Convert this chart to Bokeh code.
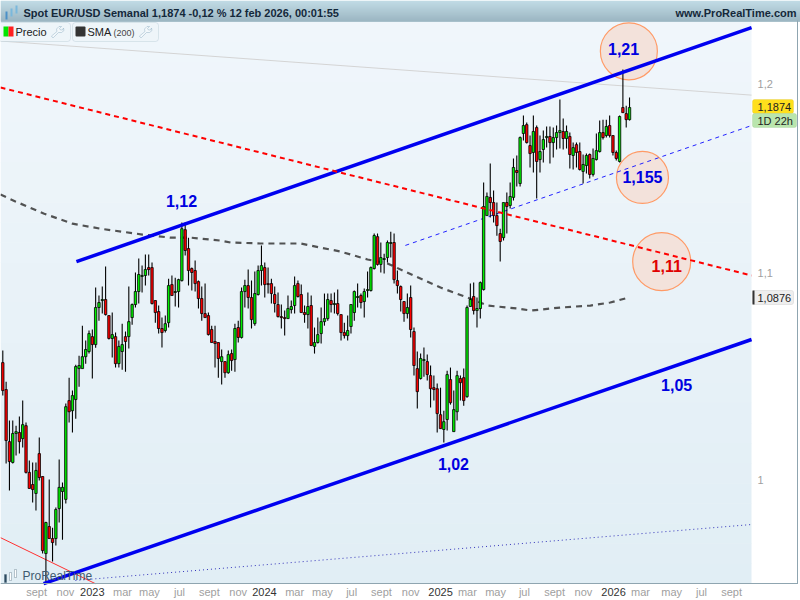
from bokeh.plotting import figure
from bokeh.models import (BoxAnnotation, Label, PolyAnnotation, FixedTicker, Range1d)
from bokeh.core.properties import value
from bokeh.embed import file_html
from bokeh.resources import INLINE

direction = ("RRRGGRGRRR" "GRRGRRGGGG" "RGGGGGGRGG" "GRRGRGGRGG" "GGGGRRRRRG"
             "GRGGGRRRRR" "RRRRRRGRGR" "GRGGRRGGGR" "RRRRRRGGGR" "RRGRGGGGGR"
             "GRRRGGGGRG" "GGGRGGGGRR" "RRGRRRGGRR" "RRRGGRGGRR" "GGRGGGGRRR"
             "RGRGGRGGRR" "GRGGGRGGGR" "GRGRRGGRGG" "GRGRRRGRRG")
body_top = [1.0553,1.0423,1.0176,1.0214,1.0223,1.0219,1.0256,1.0251,1.0033,.9977,
1.0042,1.0120,1.0014,.9804,.9786,.9732,.9863,.9964,.9964,1.0341,
1.0370,1.0394,1.0534,1.0539,1.0582,1.0617,1.0695,1.0680,1.0824,1.0849,
1.0864,1.0864,1.0784,1.0690,1.0680,1.0632,1.0641,1.0680,1.0754,1.0839,
1.0904,1.0990,1.0985,1.1015,1.1025,1.1025,1.0859,1.0804,1.0720,1.0744,
1.0934,1.0939,1.0904,1.0964,1.1224,1.1219,1.1122,1.1020,1.1010,1.0954,
1.0869,1.0794,1.0784,1.0715,1.0656,1.0651,1.0582,1.0558,1.0592,1.0597,
1.0720,1.0725,1.0904,1.0934,1.0934,1.0874,1.0894,1.1010,1.1035,1.1025,
1.0944,1.0944,1.0889,1.0839,1.0779,1.0774,1.0819,1.0829,1.0934,1.0944,
1.0889,1.0799,1.0829,1.0834,1.0651,1.0690,1.0754,1.0769,1.0864,1.0859,
1.0844,1.0844,1.0789,1.0700,1.0710,1.0839,1.0904,1.0879,1.0884,1.0904,
1.0914,1.1025,1.1189,1.1183,1.1076,1.1071,1.1153,1.1153,1.1153,1.0959,
1.0929,1.0854,1.0824,1.0874,1.0705,1.0524,1.0573,1.0568,1.0558,1.0490,
1.0432,1.0427,1.0303,1.0270,1.0495,1.0471,1.0327,1.0490,1.0476,1.0480,
1.0824,1.0864,1.0879,1.0819,1.0949,1.1339,1.1392,1.1387,1.1360,1.1292,
1.1199,1.1360,1.1360,1.1392,1.1545,1.1529,1.1705,1.1770,1.1775,1.1662,
1.1738,1.1759,1.1630,1.1694,1.1711,1.1711,1.1705,1.1732,1.1743,1.1738,
1.1738,1.1711,1.1651,1.1667,1.1630,1.1561,1.1609,1.1614,1.1593,1.1635,
1.1732,1.1732,1.1765,1.1770,1.1716,1.1625,1.1819,1.1868,1.1835,1.1868]
body_bottom = [1.0418,1.0181,1.0083,1.0079,1.0214,1.0176,1.0190,1.0033,.9959,.9954,
.9936,1.0009,.9678,.9665,.9732,.9714,.9732,.9867,.9945,.9909,
1.0317,1.0322,1.0375,1.0524,1.0524,1.0582,1.0607,1.0641,1.0641,1.0824,
1.0859,1.0789,1.0671,1.0671,1.0548,1.0548,1.0607,1.0656,1.0680,1.0774,
1.0839,1.0904,1.0980,1.0985,1.1015,1.0844,1.0799,1.0720,1.0700,1.0710,
1.0749,1.0884,1.0899,1.0904,1.0959,1.1112,1.1010,1.1000,1.0944,1.0869,
1.0794,1.0774,1.0690,1.0651,1.0646,1.0573,1.0558,1.0504,1.0504,1.0563,
1.0568,1.0676,1.0676,1.0904,1.0874,1.0764,1.0744,1.0889,1.1010,1.0939,
1.0939,1.0894,1.0844,1.0779,1.0774,1.0769,1.0769,1.0814,1.0834,1.0879,
1.0799,1.0789,1.0789,1.0636,1.0632,1.0651,1.0695,1.0754,1.0769,1.0839,
1.0839,1.0794,1.0700,1.0685,1.0685,1.0730,1.0799,1.0874,1.0849,1.0854,
1.0909,1.0909,1.1020,1.1041,1.1041,1.1066,1.1076,1.1148,1.0964,1.0934,
1.0864,1.0794,1.0794,1.0715,1.0539,1.0413,1.0476,1.0563,1.0495,1.0427,
1.0423,1.0308,1.0237,1.0233,1.0280,1.0360,1.0223,1.0317,1.0456,1.0370,
1.0389,1.0829,1.0809,1.0809,1.0819,1.0914,1.1292,1.1360,1.1292,1.1240,
1.1158,1.1178,1.1339,1.1345,1.1387,1.1518,1.1460,1.1727,1.1678,1.1619,
1.1625,1.1577,1.1587,1.1641,1.1705,1.1678,1.1678,1.1705,1.1732,1.1700,
1.1700,1.1614,1.1609,1.1625,1.1534,1.1524,1.1555,1.1508,1.1508,1.1587,
1.1630,1.1705,1.1716,1.1716,1.1625,1.1593,1.1577,1.1840,1.1802,1.1802]
wick_high = [1.0612,1.0461,1.0275,1.0275,1.0251,1.0294,1.0370,1.0266,1.0088,1.0079,
1.0079,1.0195,1.0014,.9808,1.0000,.9781,.9872,1.0093,.9986,1.0356,
1.0480,1.0418,1.0543,1.0587,1.0734,1.0661,1.0710,1.0715,1.0924,1.0884,
1.0929,1.1030,1.0784,1.0799,1.0700,1.0661,1.0744,1.0705,1.0929,1.0844,
1.1000,1.1071,1.1035,1.1091,1.1091,1.1051,1.0859,1.0834,1.0774,1.0784,
1.0969,1.0985,1.0974,1.0969,1.1256,1.1256,1.1178,1.1025,1.1061,1.0959,
1.0929,1.0944,1.0799,1.0734,1.0734,1.0651,1.0617,1.0558,1.0612,1.0617,
1.0744,1.0759,1.0924,1.0964,1.1015,1.0959,1.1005,1.1035,1.1137,1.1051,
1.1025,1.0969,1.0929,1.0899,1.0839,1.0809,1.0884,1.0859,1.0980,1.0959,
1.0939,1.0834,1.0899,1.0884,1.0725,1.0774,1.0824,1.0894,1.0894,1.0894,
1.0899,1.0914,1.0789,1.0749,1.0784,1.0839,1.0909,1.0944,1.0894,1.0919,
1.1005,1.1030,1.1199,1.1199,1.1153,1.1096,1.1163,1.1209,1.1199,1.1010,
1.0934,1.0854,1.0894,1.0934,1.0725,1.0607,1.0597,1.0627,1.0592,1.0539,
1.0490,1.0452,1.0432,1.0322,1.0514,1.0529,1.0418,1.0514,1.0490,1.0524,
1.0834,1.0944,1.0949,1.0874,1.0954,1.1465,1.1413,1.1566,1.1423,1.1360,
1.1224,1.1360,1.1413,1.1465,1.1593,1.1609,1.1711,1.1824,1.1786,1.1716,
1.1824,1.1770,1.1716,1.1743,1.1765,1.1765,1.1759,1.1770,1.1912,1.1808,
1.1770,1.1732,1.1678,1.1678,1.1678,1.1614,1.1619,1.1619,1.1646,1.1727,
1.1797,1.1802,1.1802,1.1824,1.1716,1.1635,1.1824,1.2078,1.1878,1.1923]
wick_low = [1.0394,1.0074,.9950,1.0074,1.0111,1.0120,1.0148,1.0028,.9959,.9895,
.9858,.9995,.9665,.9532,.9732,.9630,.9701,.9804,.9727,.9890,
1.0266,1.0219,1.0284,1.0437,1.0524,1.0548,1.0597,1.0476,1.0626,1.0759,
1.0794,1.0784,1.0666,1.0578,1.0529,1.0529,1.0519,1.0509,1.0622,1.0739,
1.0824,1.0844,1.0899,1.0934,1.0985,1.0839,1.0749,1.0695,1.0627,1.0700,
1.0725,1.0884,1.0829,1.0824,1.0954,1.1086,1.0934,1.0909,1.0904,1.0819,
1.0759,1.0774,1.0685,1.0651,1.0529,1.0480,1.0447,1.0480,1.0499,1.0514,
1.0509,1.0651,1.0671,1.0824,1.0819,1.0720,1.0734,1.0884,1.0934,1.0874,
1.0894,1.0844,1.0799,1.0774,1.0720,1.0685,1.0769,1.0794,1.0794,1.0874,
1.0799,1.0749,1.0720,1.0636,1.0597,1.0646,1.0646,1.0734,1.0759,1.0799,
1.0794,1.0784,1.0661,1.0671,1.0661,1.0695,1.0759,1.0824,1.0819,1.0774,
1.0874,1.0904,1.1015,1.1035,1.1000,1.0995,1.1051,1.1076,1.0944,1.0894,
1.0804,1.0754,1.0769,1.0676,1.0490,1.0332,1.0471,1.0485,1.0466,1.0337,
1.0370,1.0219,1.0237,1.0172,1.0228,1.0351,1.0223,1.0275,1.0370,1.0346,
1.0384,1.0829,1.0789,1.0725,1.0769,1.0909,1.1292,1.1282,1.1256,1.1188,
1.1056,1.1163,1.1199,1.1329,1.1371,1.1444,1.1444,1.1689,1.1673,1.1545,
1.1518,1.1381,1.1518,1.1571,1.1651,1.1566,1.1598,1.1641,1.1646,1.1641,
1.1646,1.1539,1.1534,1.1545,1.1529,1.1460,1.1513,1.1487,1.1497,1.1582,
1.1625,1.1694,1.1705,1.1705,1.1609,1.1582,1.1571,1.1840,1.1759,1.1797]

sma_week = [-0.69,3.8,12.3,21,29.5,42.1,50.6,56.6,65.6,68.7,77.7,89.8,95.8,101.8,110,116,123.9,132,140.1,146.2,155.2,159.2,168.2,177.2,183.2,188.7]
sma_value = [1.1402,1.1366,1.1303,1.1250,1.1224,1.1194,1.1178,1.1178,1.1163,1.1153,1.1148,1.1148,1.1127,1.1107,1.1066,1.1046,1.0985,1.0924,1.0874,1.0834,1.0819,1.0809,1.0824,1.0834,1.0849,1.0874]

month_ticks = [10.2,18.9,36.1,44.2,53.3,62.3,71,88,96.4,105.2,114.2,123,140.1,148.6,157.3,166.4,175.1,192.3,201.7,210.7,219.8]
month_labels = ["sept","nov","mar","may","jul","sept","nov","mar","may","jul","sept","nov","mar","may","jul","sept","nov","mar","may","jul","sept"]
year_ticks = [27,78.9,132,184.2]
year_labels = ["2023","2024","2025","2026"]
price_ticks = [1,1.1,1.2]
price_labels = ["1","1,1","1,2"]

weeks = list(range(len(body_top)))
WEEK_START, WEEK_END = -0.69, 225.8
P_LOW = 0.9532
CANVAS_WEEK = (-0.694, 240.56)
CANVAS_PRICE = (0.94583, 1.24675)

p = figure(width=800, height=600, frame_width=800, frame_height=600,
           x_range=Range1d(*CANVAS_WEEK), y_range=Range1d(*CANVAS_PRICE),
           y_axis_type="log", y_axis_location="right",
           output_backend="svg", toolbar_location=None, tools="",
           min_border_left=0, min_border_top=0, min_border_right=0, min_border_bottom=0,
           background_fill_color="white", border_fill_color="white", outline_line_color=None)
p.grid.visible = False

FONT = "Liberation Sans"

def box(l, t, r, b, color, level="underlay", **kw):
    a = BoxAnnotation(left=l, right=r, top=t, bottom=b, left_units="canvas", right_units="canvas",
                      top_units="canvas", bottom_units="canvas", fill_color=color, fill_alpha=1,
                      line_color=kw.pop("line_color", None), level=level, **kw)
    p.add_layout(a)

def label(x, y, text, size=12, color="#222222", style="normal", align="left"):
    p.add_layout(Label(x=x, y=y, x_units="canvas", y_units="canvas", text=text, text_font=FONT,
                       text_font_size=f"{size}px", text_color=color, text_font_style=style,
                       text_align=align, text_baseline="middle", level="overlay"))

def lerp(c1, c2, f):
    return "#" + "".join(f"{round(a+(b-a)*f):02x}" for a, b in zip(c1, c2))

# frame background gradient
for k in range(28):
    t0 = 21 + k * 562 / 28
    box(0, t0, 751, t0 + 562 / 28 + 0.5, lerp((240, 246, 251), (225, 238, 245), k / 27))
# header gradient
for k in range(21):
    box(0, k, 800, k + 1.2, lerp((184, 214, 226), (142, 172, 186), k / 20), level="overlay")
# outer frame lines
box(0, 582.5, 797.5, 583.5, "#8fa5b0", level="overlay")
box(796.5, 20, 797.5, 583.5, "#8fa5b0", level="overlay")

# axes
p.xaxis.fixed_location = P_LOW
p.xaxis.ticker = FixedTicker(ticks=month_ticks)
p.xaxis.major_label_overrides = dict(zip(month_ticks, month_labels))
p.xaxis.major_label_text_font = FONT
p.xaxis.major_label_text_font_size = "11px"
p.xaxis.major_label_text_color = "#a0a0a0"
p.xaxis.major_label_standoff = 2
p.xaxis.axis_line_color = None
p.xaxis.major_tick_line_color = None
p.xaxis.minor_tick_line_color = None
p.xaxis.major_tick_out = 0
p.xaxis.major_tick_in = 0
p.xaxis.minor_tick_out = 0
p.yaxis.fixed_location = WEEK_END
p.yaxis.ticker = FixedTicker(ticks=price_ticks)
p.yaxis.major_label_overrides = dict(zip(price_ticks, price_labels))
p.yaxis.major_label_text_font = FONT
p.yaxis.major_label_text_font_size = "11px"
p.yaxis.major_label_text_color = "#a0a0a0"
p.yaxis.major_label_standoff = 6
p.yaxis.axis_line_color = None
p.yaxis.major_tick_line_color = None
p.yaxis.minor_tick_line_color = None
p.yaxis.major_tick_out = 0
p.yaxis.major_tick_in = 0
p.yaxis.minor_tick_out = 0

for xt, s in zip(year_ticks, year_labels):
    p.add_layout(Label(x=xt, y=591, x_units="data", y_units="canvas", text=s, text_font=FONT,
                       text_font_size="11px", text_color="#333333", text_align="center",
                       text_baseline="middle", level="overlay"))

# reference lines behind
p.line([WEEK_START, WEEK_END], [1.2237, 1.1936], line_color="#d4d4d4", line_width=1)
for cx, cy, d in [(188.8, 1.2179, 57), (192.9, 1.1492, 52), (198.7, 1.1055, 58)]:
    p.scatter([cx], [cy], size=d, marker="circle", fill_color="#f3e2db", fill_alpha=1,
              line_color="#ff9a66", line_width=1.2)
p.line([-0.69, 27.9], [.9736, .9532], line_color="#ff3030", line_width=1)
p.line([21.9, WEEK_END], [.9546, .9795], line_color="#3333bb", line_width=1, line_dash="1 3")
p.line([121.4, WEEK_END], [1.1138, 1.1770], line_color="#2222ff", line_width=1, line_dash="4 4")
p.line(sma_week, sma_value, line_color="#404040", line_width=2.2, line_dash="6 5", line_alpha=0.9)

# candles
p.segment(weeks, wick_high, weeks, wick_low, line_color="black", line_width=1.1)
colors = ["#00f000" if d == "G" else "#ff0000" for d in direction]
p.vbar(weeks, 0.72, body_top, body_bottom, fill_color=colors, line_color="black", line_width=0.8)

# trend lines above
p.line([22.2, WEEK_END], [1.1055, 1.2313], line_color="#0000f0", line_width=3.5)
p.line([12.3, WEEK_END], [.9532, 1.0666], line_color="#0000f0", line_width=3.5)
p.line([WEEK_START, WEEK_END], [1.1978, 1.0985], line_color="#ff0000", line_width=2, line_dash="5 4")

# value notes
for nx, ny, s, c in [(53.9, 1.1366, "1,12", "#0000e0"), (187.2, 1.2190, "1,21", "#0000e0"),
                     (192.9, 1.1492, "1,155", "#0000e0"), (200.2, 1.1035, "1,11", "#e00000"),
                     (203.2, 1.0447, "1,05", "#0000e0"), (135.9, 1.0074, "1,02", "#0000e0")]:
    p.text([nx], [ny], text=[s], text_color=c, text_font=value(FONT), text_font_size="16px",
           text_font_style="bold", text_align="center", text_baseline="middle")

# header texts
label(23, 12, "Spot EUR/USD Semanal 1,1874 -0,12 % 12 feb 2026, 00:01:55", 11, "#14283a", "bold")
label(796, 12, "www.ProRealTime.com", 11, "#14283a", "bold", "right")
# icon in header
for l, t, r, b, c in [(5, 11, 7, 19, "#4a90c8"), (10, 8, 12, 16, "#7ab8dc"), (15, 5, 17, 13, "#7ab8dc")]:
    box(l, t, r, b, c, level="overlay")

# legend buttons
box(-2, 22, 70, 41, "#eef5f9", level="overlay", line_color="#9fb9c6", border_radius=3)
box(72, 22, 158, 41, "#eef5f9", level="overlay", line_color="#9fb9c6", border_radius=3)
box(3, 26, 8, 36, "#00e600", level="overlay")
box(8, 26, 13, 36, "#ff2020", level="overlay")
box(75, 26, 85, 36, "#333333", level="overlay", border_radius=1)
label(15, 31.5, "Precio", 11)
label(87, 31.5, "SMA", 11)
label(113, 32, "(200)", 9, "#444444")
wrench = [(1, 11), (0, 9.5), (5.5, 5), (5, 2.5), (7.5, 0), (10, 0), (8, 2), (9, 3.5), (11, 3.5), (12, 1.5), (12.5, 4), (10, 6), (7, 6), (2, 11)]
for ox in (51, 139):
    p.add_layout(PolyAnnotation(xs=[ox + a for a, _ in wrench], ys=[26 + b for _, b in wrench],
                                xs_units="canvas", ys_units="canvas", fill_color="#ffffff", fill_alpha=0.3,
                                line_color="#5a88a4", line_width=1, level="overlay"))

# price tags
box(752, 99, 793, 113, "#ffdf1c", level="overlay", line_color="#d8c040", border_radius=2)
box(752, 113, 796, 127, "#b9e5ad", level="overlay", line_color="#9cc692", border_radius=2)
box(752, 290, 793, 304, "#eeeeee", level="overlay", line_color="#bbbbbb", border_radius=2)
box(752, 290, 754, 304, "#333333", level="overlay")
label(757, 106.5, "1,1874", 11, "#222222")
label(757, 120.5, "1D 22h", 11, "#222222")
label(757, 297.5, "1,0876", 11, "#222222")

# watermark
for l, t, r, b, c in [(4, 574, 6, 582, "#2c4a60"), (9, 572, 11, 580, "#ffffff"), (14, 569, 16, 577, "#ffffff")]:
    box(l, t, r, b, c, level="overlay", line_color="#2c4a60")
label(22, 575, "ProRealTime", 12, "#3f5b70")

open("out.html", "w").write(file_html(p, INLINE))
